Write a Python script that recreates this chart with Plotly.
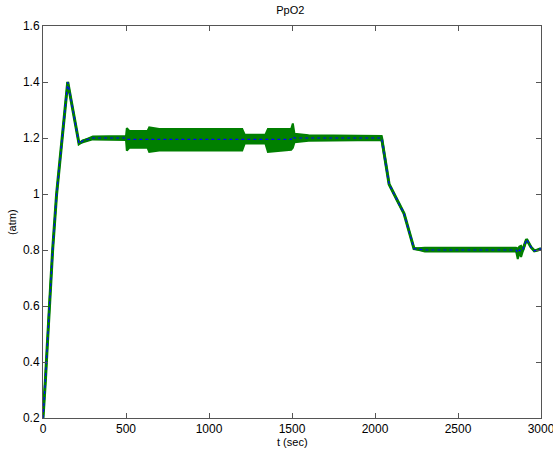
import plotly.graph_objects as go

# Center trace
t = [0, 8, 14, 25, 40, 52, 58, 82, 115, 149, 217, 240, 300, 500, 505, 520, 630, 640, 700,
     1200, 1215, 1340, 1355, 1495, 1505, 1515, 1600, 2040, 2085, 2130, 2175, 2235, 2300,
     2850, 2860, 2870, 2880, 2890, 2913, 2940, 2960, 2980, 3000]
center = [0.20, 0.30, 0.33, 0.45, 0.62, 0.75, 0.80, 1.00, 1.20, 1.40, 1.18, 1.19, 1.20, 1.20, 1.195, 1.195, 1.195, 1.195, 1.195,
          1.195, 1.197, 1.197, 1.195, 1.195, 1.205, 1.20, 1.20, 1.20, 1.035, 0.98, 0.93, 0.805, 0.80,
          0.80, 0.79, 0.80, 0.795, 0.80, 0.838, 0.81, 0.797, 0.80, 0.805]
# Oscillation envelope (upper / lower)
upper = [0.20, 0.30, 0.33, 0.45, 0.62, 0.75, 0.80, 1.00, 1.20, 1.40, 1.18, 1.19, 1.205, 1.207, 1.235, 1.225, 1.225, 1.238, 1.232,
         1.232, 1.212, 1.212, 1.232, 1.232, 1.252, 1.215, 1.21, 1.207, 1.035, 0.98, 0.93, 0.805, 0.808,
         0.808, 0.805, 0.812, 0.815, 0.802, 0.838, 0.81, 0.797, 0.80, 0.805]
lower = [0.20, 0.30, 0.33, 0.45, 0.62, 0.75, 0.80, 1.00, 1.20, 1.40, 1.18, 1.185, 1.195, 1.193, 1.155, 1.165, 1.165, 1.150, 1.155,
         1.155, 1.180, 1.180, 1.150, 1.158, 1.165, 1.185, 1.19, 1.193, 1.035, 0.98, 0.93, 0.805, 0.795,
         0.795, 0.768, 0.79, 0.775, 0.795, 0.838, 0.81, 0.797, 0.80, 0.805]

xticks = [0, 500, 1000, 1500, 2000, 2500, 3000]
yticks = [0.2, 0.4, 0.6, 0.8, 1.0, 1.2, 1.4, 1.6]
yticklabels = ["0.2", "0.4", "0.6", "0.8", "1", "1.2", "1.4", "1.6"]

GREEN = "#007f00"
BLUE = "#0000ff"
FONT = "Liberation Sans, Arial"

fig = go.Figure()
# band polygon
fig.add_trace(go.Scatter(x=t + t[::-1], y=upper + lower[::-1], fill="toself",
                         fillcolor=GREEN, line=dict(color=GREEN, width=2),
                         mode="lines", hoverinfo="skip", showlegend=False))
fig.add_trace(go.Scatter(x=t, y=center, mode="lines",
                         line=dict(color=GREEN, width=3), showlegend=False))
fig.add_trace(go.Scatter(x=t, y=center, mode="lines",
                         line=dict(color=BLUE, width=1.2, dash="dot"), showlegend=False))

axis_common = dict(showgrid=False, zeroline=False, showline=True, linecolor="#555",
                   linewidth=1, mirror="ticks", ticks="inside", ticklen=5, automargin=False,
                   tickcolor="#555", tickfont=dict(family=FONT, size=12, color="black"))

fig.update_layout(
    width=553, height=450,
    margin=dict(l=43, r=12, t=26, b=32),
    paper_bgcolor="white", plot_bgcolor="white",
    title=dict(text="PpO2", x=0.525, xanchor="center", y=0.985, yanchor="top",
               font=dict(family=FONT, size=11, color="black")),
    xaxis=dict(range=[0, 3000], tickvals=xticks, ticklabeloverflow="allow",
               ticklabelstandoff=0, **axis_common),
    yaxis=dict(range=[0.2, 1.6], tickvals=yticks, ticktext=yticklabels,
               ticklabelstandoff=0, **axis_common),
    annotations=[
        dict(text="t (sec)", xref="paper", yref="paper", x=0.5, y=-0.062,
             xanchor="center", yanchor="middle", showarrow=False,
             font=dict(family=FONT, size=11, color="black")),
        dict(text="(atm)", xref="paper", yref="paper", x=-0.062, y=0.5, textangle=-90,
             xanchor="center", yanchor="middle", showarrow=False,
             font=dict(family=FONT, size=11, color="black")),
    ],
)

fig.write_html("out.html")
